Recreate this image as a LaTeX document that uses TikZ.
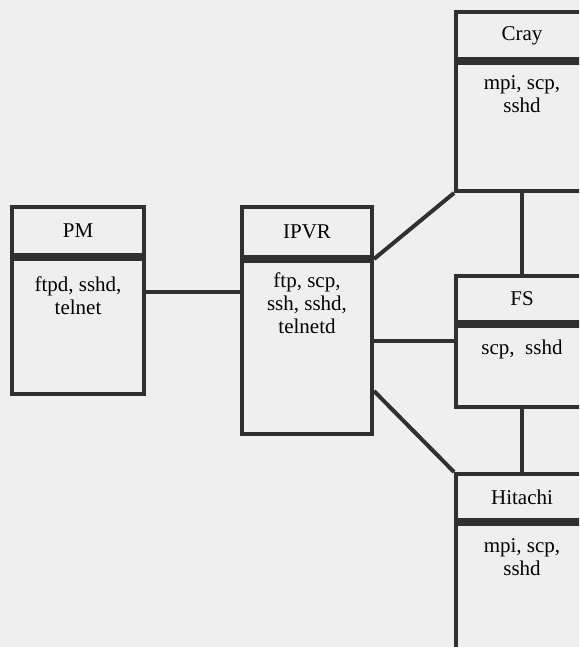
\documentclass[tikz,border=0pt]{standalone}
\usepackage{fontspec}
\setmainfont{Liberation Serif}

\definecolor{ink}{HTML}{303030}
\definecolor{paper}{HTML}{EFEFEF}

\tikzset{
	box/.style={draw=ink, line width=4pt, rectangle, anchor=north west, inner sep=0pt, minimum width=#1},
	head/.style={box=#1, minimum height=48pt, font=\fontsize{21}{24}\selectfont},
	body/.style={box=132pt, minimum height=#1},
	listing/.style={anchor=north, align=center, inner sep=0pt, yshift=-14pt, font=\fontsize{21}{23}\selectfont},
	link/.style={draw=ink, line width=4pt}
}

\begin{document}
\begin{tikzpicture}[x=1pt, y=-1pt]
		\clip (0, 0) rectangle (579, 647);
		\fill[paper] (0, 0) rectangle (579, 647);
	
		% left side
		\node[head=132pt] (pmh) at (10, 205) {PM};
		\node[body=135pt, label={[listing, yshift=-6pt]north:{ftpd, sshd,\\telnet}}] (pmb) at (pmh.south west) {};
	
		\node[head=130pt, minimum height=50pt] (ipvrh) at (240, 205) {IPVR};
		\node[body=173pt, minimum width=130pt, label={[listing]north:{ftp, scp,\\ssh, sshd,\\telnetd}}] (ipvrb) at (ipvrh.south west) {};
	
		% right side
		\node[head=132pt, minimum height=47pt] (crayh) at (454, 10) {Cray};
		\node[body=128pt, label={[listing]north:{mpi, scp,\\sshd}}] (crayb) at (crayh.south west) {};
	
		\node[head=132pt, minimum height=46pt] (fsh) at (454, 274) {FS};
		\node[body=81pt, label={[listing, yshift=-2pt]north:{scp,~ sshd}}] (fsb) at (fsh.south west) {};
	
		\node[head=132pt, minimum height=46pt] (hith) at (454, 472) {Hitachi};
		\node[body=150pt, label={[listing, yshift=-2pt]north:{mpi, scp,\\sshd}}] (hitb) at (hith.south west) {};
	
		% links
		\draw[link] ([yshift=-35pt]pmb.north east) -- ([yshift=-33pt]ipvrb.north west);
		\draw[link] (ipvrb.north east) -- (crayb.south west);
		\draw[link] ([yshift=-82pt]ipvrb.north east) -- ([yshift=-17pt]fsb.north west);
		\draw[link] ([yshift=-132pt]ipvrb.north east) -- (hith.north west);
		\draw[link] (crayb.south) -- (fsh.north);
		\draw[link] (fsb.south) -- (hith.north);
	\end{tikzpicture}
\end{document}
